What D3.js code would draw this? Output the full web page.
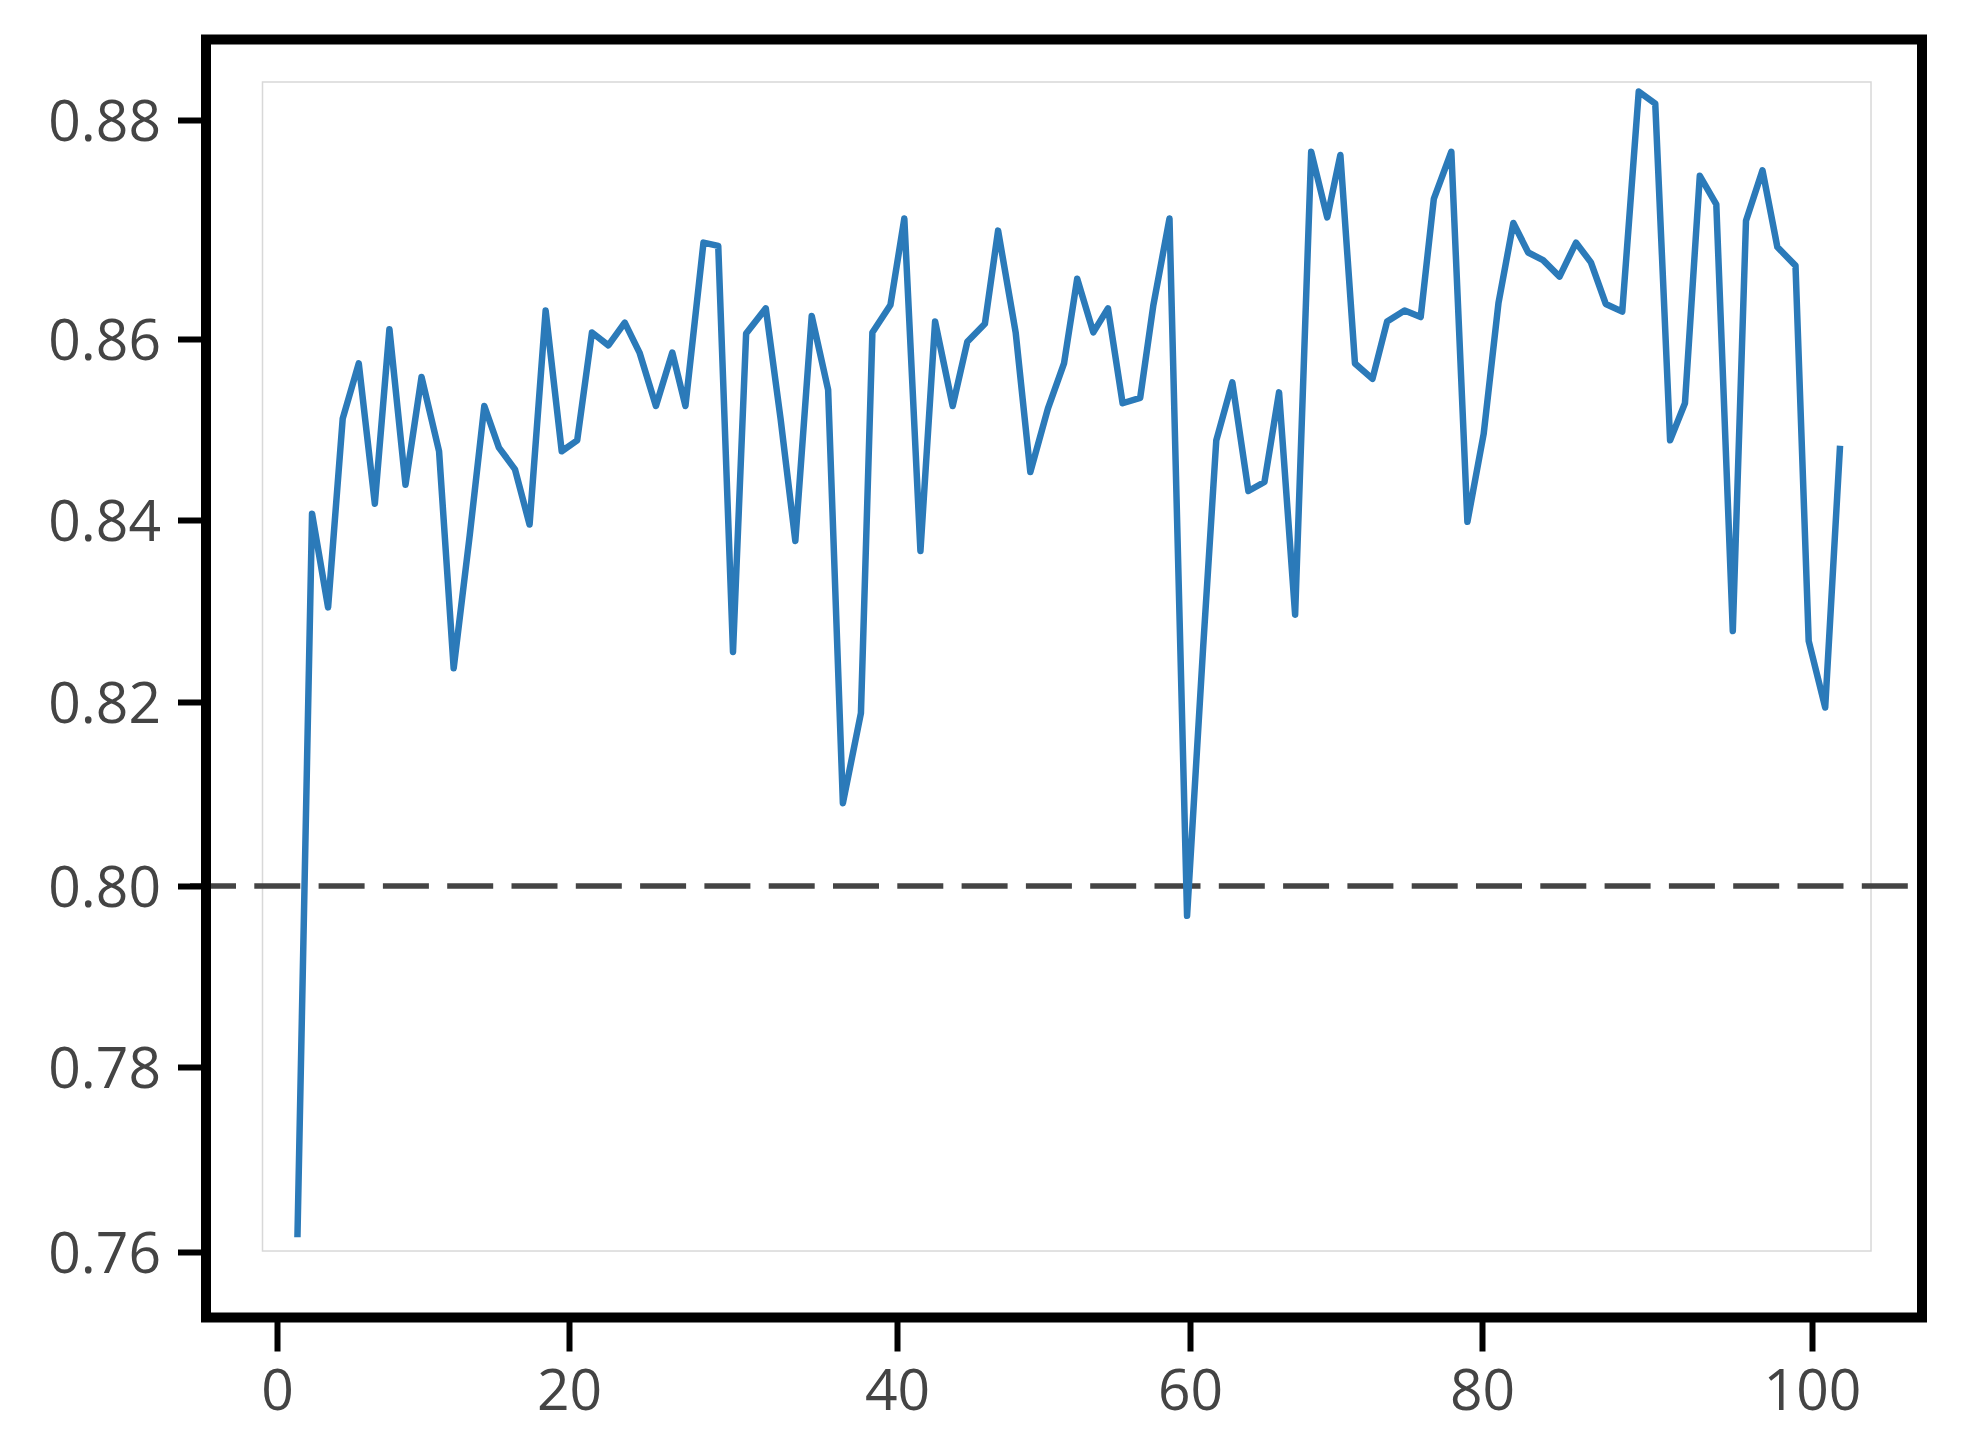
<!DOCTYPE html>
<html>
<head>
<meta charset="utf-8">
<script src="https://cdn.jsdelivr.net/npm/d3@7"></script>
<style>
  body { margin: 0; background: #fff; }
  svg { display: block; font-family: "Open Sans", sans-serif; }
</style>
</head>
<body>
<svg id="chart" width="1968" height="1450"></svg>
<script>
const epoch = [1.4, 2.4, 3.5, 4.5, 5.6, 6.7, 7.7, 8.8, 9.9, 11.1,
  12.1, 13.2, 14.2, 15.2, 16.3, 17.3, 18.4, 19.5, 20.5, 21.4,
  22.4, 23.4, 24.3, 25.3, 26.3, 27.1, 28.2, 29.1, 30.0, 30.8,
  32.0, 32.9, 33.8, 34.8, 35.8, 36.7, 37.8, 38.5, 39.6, 40.5,
  41.6, 42.6, 43.8, 44.8, 46.0, 46.9, 48.1, 49.1, 50.3, 51.4,
  52.3, 53.4, 54.4, 55.4, 56.6, 57.5, 58.6, 59.8, 60.9, 61.8,
  62.9, 64.0, 65.1, 66.1, 67.2, 68.3, 69.4, 70.3, 71.3, 72.5,
  73.5, 74.7, 75.8, 76.7, 77.9, 79.0, 80.1, 81.0, 81.9, 82.8,
  83.7, 84.7, 85.7, 86.6, 87.5, 88.5, 89.5, 90.5, 91.4, 92.3,
  93.2, 94.2, 95.2, 96.0, 97.0, 97.9, 99.0, 99.8, 100.8, 101.7];

const score = [0.7616, 0.8407, 0.8304, 0.8512, 0.8573, 0.8418, 0.8609, 0.8439, 0.8558, 0.8476,
  0.8237, 0.8383, 0.8526, 0.8480, 0.8456, 0.8395, 0.8626, 0.8476, 0.8488, 0.8606,
  0.8593, 0.8615, 0.8585, 0.8526, 0.8585, 0.8526, 0.8688, 0.8685, 0.8255, 0.8605,
  0.8628, 0.8512, 0.8377, 0.8621, 0.8544, 0.8090, 0.8188, 0.8606, 0.8631, 0.8710,
  0.8366, 0.8616, 0.8526, 0.8597, 0.8614, 0.8699, 0.8606, 0.8453, 0.8523, 0.8573,
  0.8655, 0.8606, 0.8628, 0.8529, 0.8535, 0.8631, 0.8710, 0.7967, 0.8260, 0.8488,
  0.8552, 0.8432, 0.8442, 0.8541, 0.8296, 0.8771, 0.8711, 0.8768, 0.8573, 0.8556,
  0.8616, 0.8626, 0.8620, 0.8728, 0.8771, 0.8398, 0.8495, 0.8633, 0.8706, 0.8679,
  0.8672, 0.8657, 0.8688, 0.8670, 0.8632, 0.8625, 0.8826, 0.8815, 0.8488, 0.8529,
  0.8749, 0.8723, 0.8278, 0.8708, 0.8754, 0.8684, 0.8667, 0.8267, 0.8194, 0.8482];

const xTicks = [0, 20, 40, 60, 80, 100];
const yTicks = [0.76, 0.78, 0.80, 0.82, 0.84, 0.86, 0.88];
const threshold = 0.80;

// frame of the plot (centre of the thick black border)
const frame = {left: 206, top: 39.5, right: 1922, bottom: 1317.5};

const svg = d3.select("#chart");

// the axis ticks in the picture are not evenly spaced, so the scales follow them piece by piece
const x = d3.scaleLinear()
    .domain(xTicks)
    .range([277, 569, 897, 1190, 1482, 1812]);

const y = d3.scaleLinear()
    .domain(yTicks)
    .range([1252, 1067, 886, 702, 520, 339, 120]);

// faint inner box
svg.append("rect")
    .attr("x", 262.5)
    .attr("y", 82)
    .attr("width", 1871 - 262.5)
    .attr("height", 1251 - 82)
    .attr("fill", "none")
    .attr("stroke", "#d8d8d8")
    .attr("stroke-width", 1.5);

// threshold line
svg.append("line")
    .attr("x1", 190)
    .attr("x2", 1908)
    .attr("y1", y(threshold))
    .attr("y2", y(threshold))
    .attr("stroke", "#444")
    .attr("stroke-width", 5.5)
    .attr("stroke-dasharray", "46,18.3");

// data line
const line = d3.line()
    .x(function(d){ return x(d[0]); })
    .y(function(d){ return y(d[1]); });

svg.append("path")
    .datum(d3.zip(epoch, score))
    .attr("d", line)
    .attr("fill", "none")
    .attr("stroke", "#2b7ab9")
    .attr("stroke-width", 6.5)
    .attr("stroke-linejoin", "round");

// axes
const yAxis = svg.append("g")
    .attr("transform", "translate(" + frame.left + ",0)")
    .call(d3.axisLeft(y)
      .tickValues(yTicks)
      .tickFormat(d3.format(".2f"))
      .tickSize(28)
      .tickPadding(17));

const xAxis = svg.append("g")
    .attr("transform", "translate(0," + frame.bottom + ")")
    .call(d3.axisBottom(x)
      .tickValues(xTicks)
      .tickFormat(d3.format("d"))
      .tickSize(34));

svg.selectAll(".domain").remove();

svg.selectAll(".tick line")
    .attr("stroke", "#000")
    .attr("stroke-width", 6);

yAxis.selectAll(".tick text")
    .attr("dy", "0.36em");

xAxis.selectAll(".tick text")
    .attr("y", 92.5)
    .attr("dy", 0);

svg.selectAll(".tick text")
    .attr("fill", "#444")
    .style("font-family", "'Open Sans', sans-serif")
    .style("font-size", "57px");

// thick black border
svg.append("rect")
    .attr("x", frame.left)
    .attr("y", frame.top)
    .attr("width", frame.right - frame.left)
    .attr("height", frame.bottom - frame.top)
    .attr("fill", "none")
    .attr("stroke", "#000")
    .attr("stroke-width", 10);
</script>
</body>
</html>
